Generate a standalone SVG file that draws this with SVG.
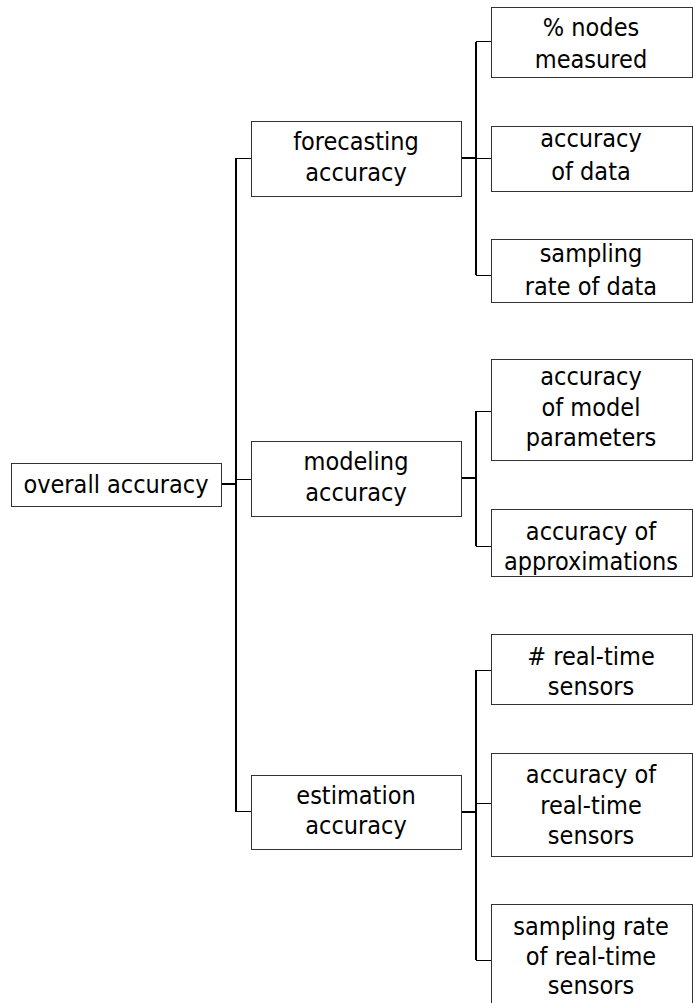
<svg xmlns="http://www.w3.org/2000/svg" width="693" height="1003" viewBox="0 0 693 1003">
<style>
.box{fill:#fff;stroke:#333;stroke-width:1}
.t{font-family:"DejaVu Sans Condensed","DejaVu Sans",sans-serif;font-stretch:condensed;font-size:25px;fill:#000;text-anchor:middle}
.thick{stroke:#000;stroke-width:2;fill:none}
.thin{stroke:#000;stroke-width:1;fill:none}
</style>
<rect width="693" height="1003" fill="#fff"/>
<g id="connectors">
<path class="thick" d="M221,484H236M236,158V812M461,158H476M476,42V275M461,478H476M476,411V546M461,812H476M476,670V960"/>
<path class="thin" d="M236,158.5H251M236,479.5H251M236,811.5H251M476,41.5H491M476,158.5H491M476,275.5H491M476,411.5H491M476,546.5H491M476,670.5H491M476,803.5H491M476,960.5H491"/>
</g>
<g id="overall"><rect class="box" x="11.5" y="463.5" width="210" height="43"/><text class="t" x="116" y="493">overall accuracy</text></g>
<g id="forecasting"><rect class="box" x="251.5" y="121.5" width="210" height="75"/><text class="t" x="356" y="150">forecasting</text><text class="t" x="356" y="181">accuracy</text></g>
<g id="modeling"><rect class="box" x="251.5" y="441.5" width="210" height="75"/><text class="t" x="356" y="470">modeling</text><text class="t" x="356" y="501">accuracy</text></g>
<g id="estimation"><rect class="box" x="251.5" y="775.5" width="210" height="74"/><text class="t" x="356" y="804">estimation</text><text class="t" x="356" y="834">accuracy</text></g>
<g id="nodes-measured"><rect class="box" x="491.5" y="7.5" width="201" height="70"/><text class="t" x="591" y="36">% nodes</text><text class="t" x="591" y="68">measured</text></g>
<g id="accuracy-data"><rect class="box" x="491.5" y="126.5" width="201" height="65"/><text class="t" x="591" y="147">accuracy</text><text class="t" x="591" y="180">of data</text></g>
<g id="sampling-data"><rect class="box" x="491.5" y="239.5" width="201" height="63"/><text class="t" x="591" y="262">sampling</text><text class="t" x="591" y="295">rate of data</text></g>
<g id="model-params"><rect class="box" x="491.5" y="359.5" width="201" height="101"/><text class="t" x="591" y="385">accuracy</text><text class="t" x="591" y="416">of model</text><text class="t" x="591" y="446">parameters</text></g>
<g id="approximations"><rect class="box" x="491.5" y="509.5" width="201" height="67"/><text class="t" x="591" y="540">accuracy of</text><text class="t" x="591" y="570">approximations</text></g>
<g id="num-sensors"><rect class="box" x="491.5" y="634.5" width="201" height="70"/><text class="t" x="591" y="665">&#35; real-time</text><text class="t" x="591" y="695">sensors</text></g>
<g id="accuracy-sensors"><rect class="box" x="491.5" y="753.5" width="201" height="103"/><text class="t" x="591" y="783">accuracy of</text><text class="t" x="591" y="814">real-time</text><text class="t" x="591" y="844">sensors</text></g>
<g id="sampling-sensors"><rect class="box" x="491.5" y="904.5" width="201" height="110"/><text class="t" x="591" y="935">sampling rate</text><text class="t" x="591" y="965">of real-time</text><text class="t" x="591" y="994">sensors</text></g>
</svg>
